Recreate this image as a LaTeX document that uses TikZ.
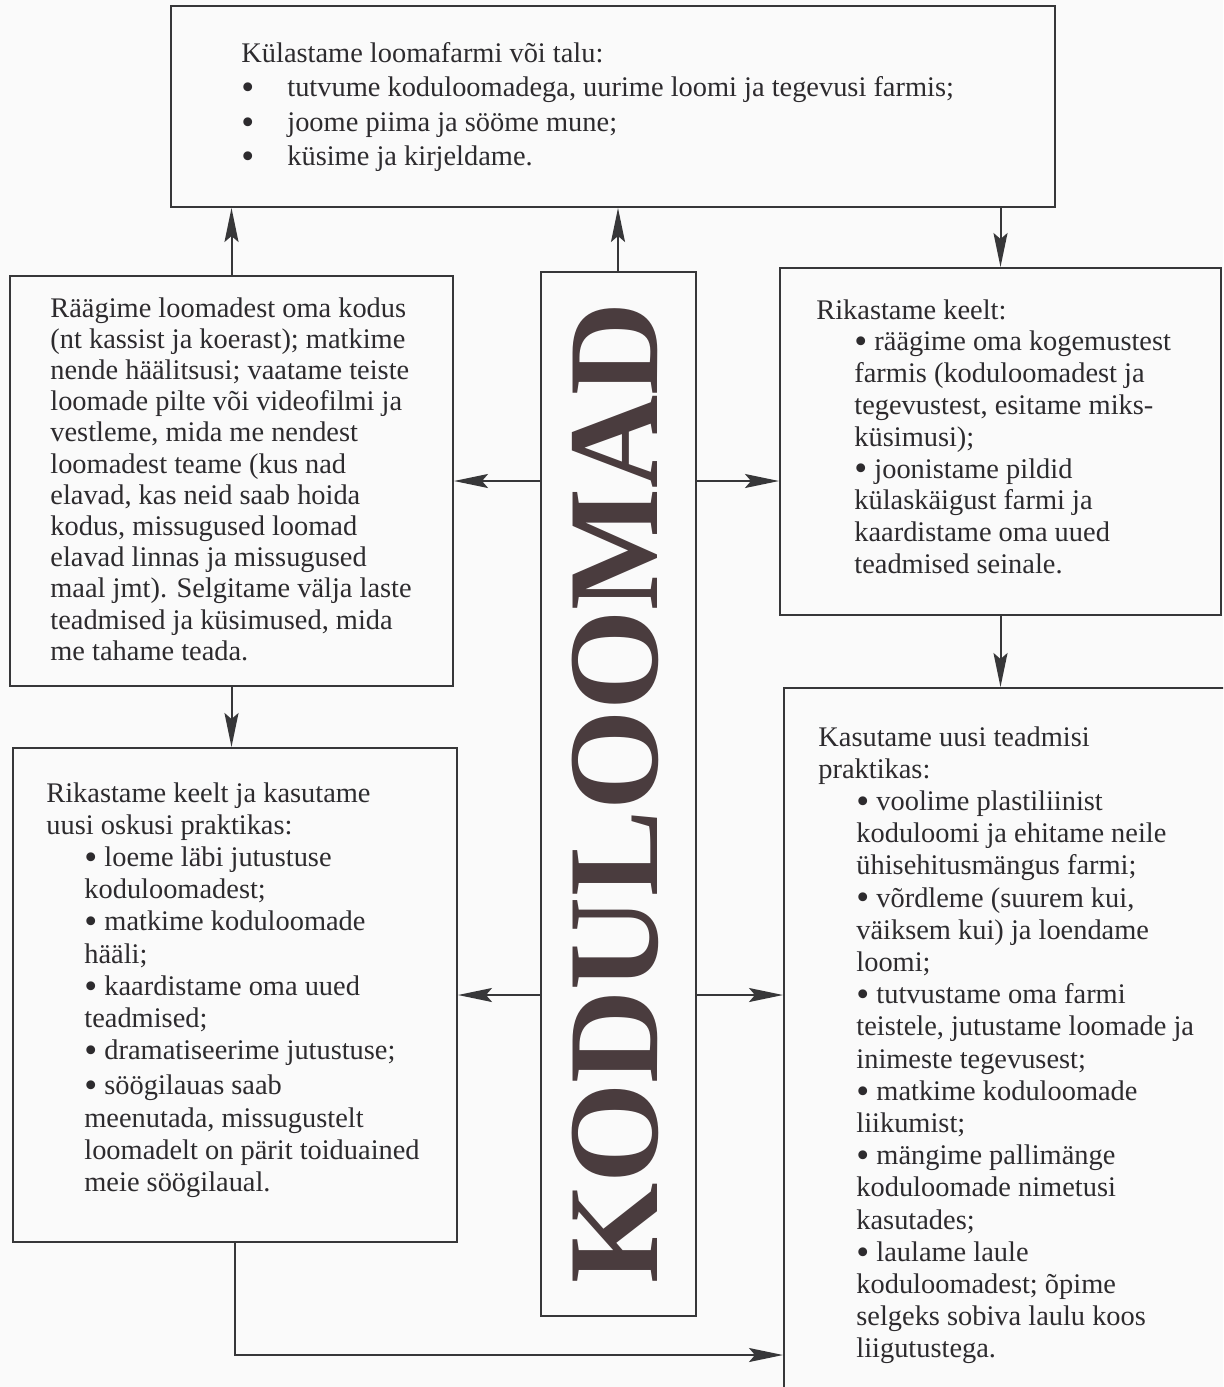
\documentclass[tikz,border=0pt]{standalone}
\usepackage{fontspec}
\setmainfont{Liberation Serif}
\usetikzlibrary{arrows.meta}
\definecolor{ink}{RGB}{45,43,46}
\definecolor{rule}{RGB}{55,55,57}
\definecolor{titleink}{RGB}{74,60,62}
\definecolor{paper}{RGB}{250,250,250}
\newcommand{\bul}{\raisebox{-1.4pt}[0.8ex][0pt]{\scalebox{1.3}{•}}}
\newcommand{\ind}{\hspace*{19pt}\bul}
\newcommand{\cont}{\hspace*{19pt}}
\newcommand{\dotbox}{\makebox[23pt][l]{\bul}}

\begin{document}
\begin{tikzpicture}
  [x=0.5pt,y=-0.5pt,
   box/.style={draw=rule,line width=1pt,inner sep=0pt,rectangle},
   txt/.style={anchor=north west,inner sep=0pt,align=left,text=ink},
   arr/.style={draw=rule,line width=1pt,-{Stealth[length=17pt,width=7pt,inset=3pt]}}]
  \clip (0,0) rectangle (1223,1387);
  \fill[paper] (0,0) rectangle (1223,1387);

  \node[box,minimum width=442pt,minimum height=100.5pt] (top) at (613,106.5) {};
  \node[box,minimum width=221.5pt,minimum height=205pt] (home) at (231.5,481) {};
  \node[box,minimum width=222pt,minimum height=247pt] (lang) at (235,995) {};
  \node[box,minimum width=77.5pt,minimum height=522pt] (kodu) at (618,794) {};
  \node[box,minimum width=220.5pt,minimum height=173.5pt] (enrich) at (1000.5,441.5) {};
  \node[box,minimum width=228pt,minimum height=356pt] (use) at (1012,1044) {};

  \node[rotate=90,inner sep=0pt,text height=42.4pt,text depth=0pt,text=titleink,
        font=\fontsize{64.5}{64}\selectfont\bfseries] (title) at (615.5,793) {KODULOOMAD};

  \node[txt,font=\fontsize{14.2}{17.25}\selectfont] (toptext) at (241,42)
    {Külastame loomafarmi või talu:\\
     \dotbox tutvume koduloomadega, uurime loomi ja tegevusi farmis;\\
     \dotbox joome piima ja sööme mune;\\
     \dotbox küsime ja kirjeldame.};

  \node[txt,font=\fontsize{14.2}{15.6}\selectfont] (hometext) at (50,297)
    {Räägime loomadest oma kodus\\
     (nt kassist ja koerast); matkime\\
     nende häälitsusi; vaatame teiste\\
     loomade pilte või videofilmi ja\\
     vestleme, mida me nendest\\
     loomadest teame (kus nad\\
     elavad, kas neid saab hoida\\
     kodus, missugused loomad\\
     elavad linnas ja missugused\\
     maal jmt). Selgitame välja laste\\
     teadmised ja küsimused, mida\\
     me tahame teada.};

  \node[txt,font=\fontsize{14.2}{16.1}\selectfont] (langtext) at (46,782)
    {Rikastame keelt ja kasutame\\
     uusi oskusi praktikas:\\
     \ind{} loeme läbi jutustuse\\
     \cont koduloomadest;\\
     \ind{} matkime koduloomade\\
     \cont hääli;\\
     \ind{} kaardistame oma uued\\
     \cont teadmised;\\
     \ind{} dramatiseerime jutustuse;\\[1.5pt]
     \ind{} söögilauas saab\\
     \cont meenutada, missugustelt\\
     \cont loomadelt on pärit toiduained\\
     \cont meie söögilaual.};

  \node[txt,font=\fontsize{14.2}{15.9}\selectfont] (enrichtext) at (816,299)
    {Rikastame keelt:\\
     \ind{} räägime oma kogemustest\\
     \cont farmis (koduloomadest ja\\
     \cont tegevustest, esitame miks-\\
     \cont küsimusi);\\
     \ind{} joonistame pildid\\
     \cont külaskäigust farmi ja\\
     \cont kaardistame oma uued\\
     \cont teadmised seinale.};

  \node[txt,font=\fontsize{14.2}{16.1}\selectfont] (usetext) at (818,726)
    {Kasutame uusi teadmisi\\
     praktikas:\\
     \ind{} voolime plastiliinist\\
     \cont koduloomi ja ehitame neile\\
     \cont ühisehitusmängus farmi;\\
     \ind{} võrdleme (suurem kui,\\
     \cont väiksem kui) ja loendame\\
     \cont loomi;\\
     \ind{} tutvustame oma farmi\\
     \cont teistele, jutustame loomade ja\\
     \cont inimeste tegevusest;\\
     \ind{} matkime koduloomade\\
     \cont liikumist;\\
     \ind{} mängime pallimänge\\
     \cont koduloomade nimetusi\\
     \cont kasutades;\\
     \ind{} laulame laule\\
     \cont koduloomadest; õpime\\
     \cont selgeks sobiva laulu koos\\
     \cont liigutustega.};

  \foreach \from/\to in {home.north/home.north |- top.south,
                         kodu.north/kodu.north |- top.south,
                         top.south -| enrich.north/enrich.north,
                         kodu.west |- home.east/home.east,
                         kodu.east |- home.east/enrich.west |- home.east,
                         home.south/home.south |- lang.north,
                         enrich.south/enrich.south |- use.north,
                         kodu.west |- lang.east/lang.east,
                         kodu.east |- lang.east/use.west |- lang.east}
    \draw[arr] (\from) -- (\to);
  \coordinate (low) at (0,1355);
  \draw[arr] (lang.south) |- (use.west |- low);
\end{tikzpicture}
\end{document}
